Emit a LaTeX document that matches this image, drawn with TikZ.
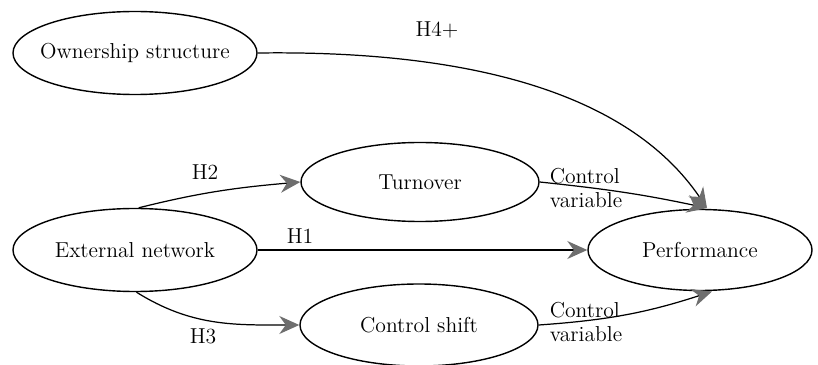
\documentclass[tikz,border=0pt]{standalone}
\usepackage{xcolor}
\usepackage{tikz}
\usetikzlibrary{arrows.meta,shapes.geometric}
\definecolor{tipGray}{RGB}{110,110,110}

\begin{document}
\begin{tikzpicture}[
  construct/.style={draw, ellipse, line width=0.8pt, inner ysep=0pt, inner xsep=-0.2cm,
    font=\fontsize{12.3}{14}\selectfont},
  path/.style={line width=0.7pt,
    -{Stealth[length=4mm, width=3.6mm, inset=1.3mm, color=tipGray]}},
  hyp/.style={font=\fontsize{12.3}{14}\selectfont},
  ctrlnote/.style={align=left, inner sep=0pt,
    font=\fontsize{12.3}{13.5}\selectfont}
]
\useasboundingbox (0,0) rectangle (16.36,7.3);
%
\node[construct, minimum width=4.88cm, minimum height=1.66cm] (own) at (2.70,6.24) {Ownership structure};
\node[construct, minimum width=4.88cm, minimum height=1.66cm] (ext) at (2.70,2.30) {External network};
\node[construct, minimum width=4.76cm, minimum height=1.58cm] (turn) at (8.40,3.66) {Turnover};
\node[construct, minimum width=4.76cm, minimum height=1.64cm] (shift) at (8.38,0.80) {Control shift};
\node[construct, minimum width=4.48cm, minimum height=1.62cm] (perf) at (14.0,2.30) {Performance};

%
\coordinate (perfTop) at (14.14,3.14);
\coordinate (perfBot) at (14.24,1.47);
\draw[path] (own.east) .. controls (9.5,6.3) and (12.6,5.4) .. (perfTop);
\draw[path] (ext.85) to[out=14, in=185] (turn.west);
\draw[path] (ext) -- (perf);
\draw[path] (ext.-88) to[out=-32, in=180] (shift.west);
\draw[path] (turn.east) to[out=-6, in=168] (perfTop);
\draw[path] (shift.east) to[out=4, in=198] (perfBot);

%
\node[hyp] (h4) at (8.74,6.70) {H4+};
\node[hyp] (h2) at (4.10,3.86) {H2};
\node[hyp] (h1) at (6.00,2.58) {H1};
\node[hyp] (h3) at (4.06,0.58) {H3};
\node[ctrlnote] (cvTop) at (11.72,3.54) {Control\\variable};
\node[ctrlnote] (cvBot) at (11.72,0.86) {Control\\variable};
\end{tikzpicture}
\end{document}
